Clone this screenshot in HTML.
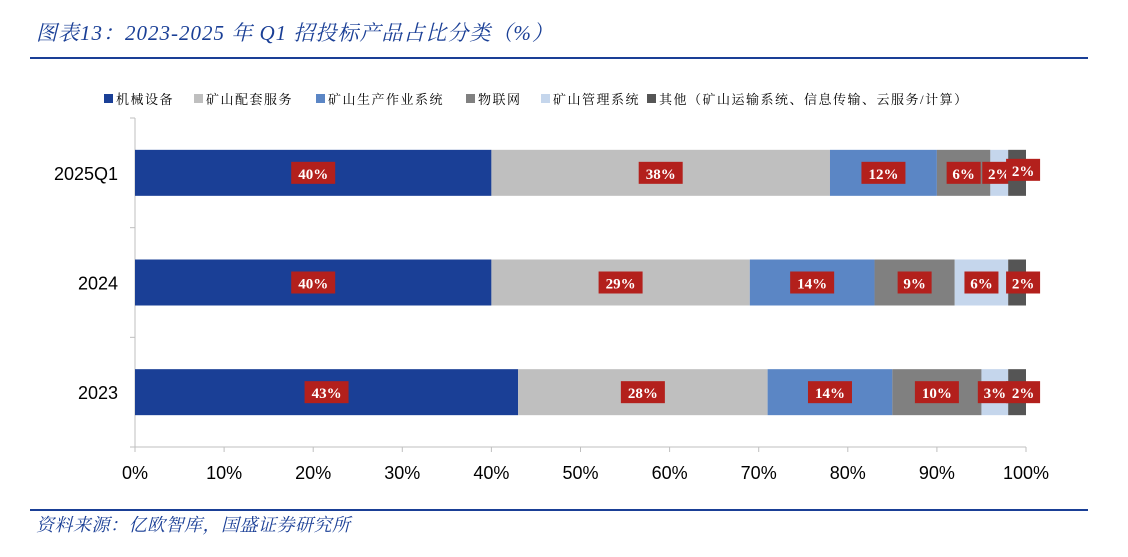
<!DOCTYPE html>
<html><head><meta charset="utf-8">
<style>
body{margin:0;background:#fff;width:1128px;height:552px;overflow:hidden;font-family:"Liberation Serif","Noto Serif CJK SC",serif;}
svg text{font-family:"Liberation Serif","Noto Serif CJK SC",serif;}
svg text.sans{font-family:"Liberation Sans","Noto Sans CJK SC",sans-serif;}
</style></head><body>
<svg id="chart" width="1128" height="552" xmlns="http://www.w3.org/2000/svg">
<text x="36" y="40" font-size="21" font-style="italic" letter-spacing="1" fill="#1a3f96">图表13：2023-2025 年 Q1 招投标产品占比分类（%）</text>
<line x1="30" y1="58" x2="1088" y2="58" stroke="#1a3f96" stroke-width="2"/>
<g id="legend"></g>
<g id="plot"></g>
<line x1="30" y1="510" x2="1088" y2="510" stroke="#1a3f96" stroke-width="2"/>
<text x="36" y="531" font-size="18" font-style="italic" letter-spacing="0.5" fill="#1a3f96">资料来源：亿欧智库，国盛证券研究所</text>
</svg>
<script>
const categories=["2025Q1","2024","2023"];
const seriesNames=["机械设备","矿山配套服务","矿山生产作业系统","物联网","矿山管理系统","其他（矿山运输系统、信息传输、云服务/计算）"];
const s1=[40,40,43];
const s2=[38,29,28];
const s3=[12,14,14];
const s4=[6,9,10];
const s5=[2,6,3];
const s6=[2,2,2];
const xTicks=[0,10,20,30,40,50,60,70,80,90,100];
const series=[s1,s2,s3,s4,s5,s6];
const colors=["#1a3f96","#bfbfbf","#5b86c5","#808080","#c5d6ec","#555555"];
const NS="http://www.w3.org/2000/svg";
const plot=document.getElementById('plot'),legend=document.getElementById('legend');
const x0=135,x1=1026,yTop=118,yBot=447;
const xs=v=>x0+(x1-x0)*v/100;
const band=(yBot-yTop)/categories.length;
const yc=i=>yTop+band*(i+0.5);
function mk(tag,attrs,parent){const e=document.createElementNS(NS,tag);for(const k in attrs)e.setAttribute(k,attrs[k]);parent.appendChild(e);return e;}
let ax=mk('line',{x1:x0,y1:yTop,x2:x0,y2:yBot,stroke:'#bfbfbf','stroke-width':1},plot);


let bx=mk('line',{x1:x0,y1:yBot,x2:x1,y2:yBot,stroke:'#bfbfbf','stroke-width':1},plot);


for(let i=0;i<=categories.length;i++){const y=yTop+band*i;const t=mk('line',{x1:x0-5,y1:y,x2:x0,y2:y,stroke:'#bfbfbf'},plot);

}
xTicks.forEach(v=>{const t=mk('line',{x1:xs(v),y1:yBot,x2:xs(v),y2:yBot+5,stroke:'#bfbfbf'},plot);


const l=mk('text',{x:xs(v),y:479,'font-size':18,'text-anchor':'middle',fill:'#000',class:'sans'},plot);l.textContent=v+'%';

});
categories.forEach((c,i)=>{const l=mk('text',{x:118,y:yc(i)+7,'font-size':18,'text-anchor':'end',fill:'#000',class:'sans'},plot);l.textContent=c;


let cum=0;const bh=46;
series.forEach((s,k)=>{const v=s[i];const r=mk('rect',{x:xs(cum),y:yc(i)-bh/2,width:xs(cum+v)-xs(cum),height:bh,fill:colors[k]},plot);


let cx=(xs(cum)+xs(cum+v))/2;if(k===5&&v<4)cx+=6;
const w=v>=10?44:34;
const bg=mk('rect',{x:cx-w/2,y:yc(i)-11-(k===5&&i===0?3:0),width:w,height:22,fill:'#b3201c'},plot);


const tx=mk('text',{x:cx,y:yc(i)+6-(k===5&&i===0?3:0),'font-size':15,'font-weight':'bold','text-anchor':'middle',fill:'#fff'},plot);tx.textContent=v+'%';


cum+=v;});});
const lx=[104,194,316,466,541,647];
seriesNames.forEach((n,k)=>{const r=mk('rect',{x:lx[k],y:94,width:9,height:9,fill:colors[k]},legend);


const t=mk('text',{x:lx[k]+12,y:104,'font-size':13,'letter-spacing':1.5,fill:'#000'},legend);t.textContent=n;

});
</script>
</body></html>
